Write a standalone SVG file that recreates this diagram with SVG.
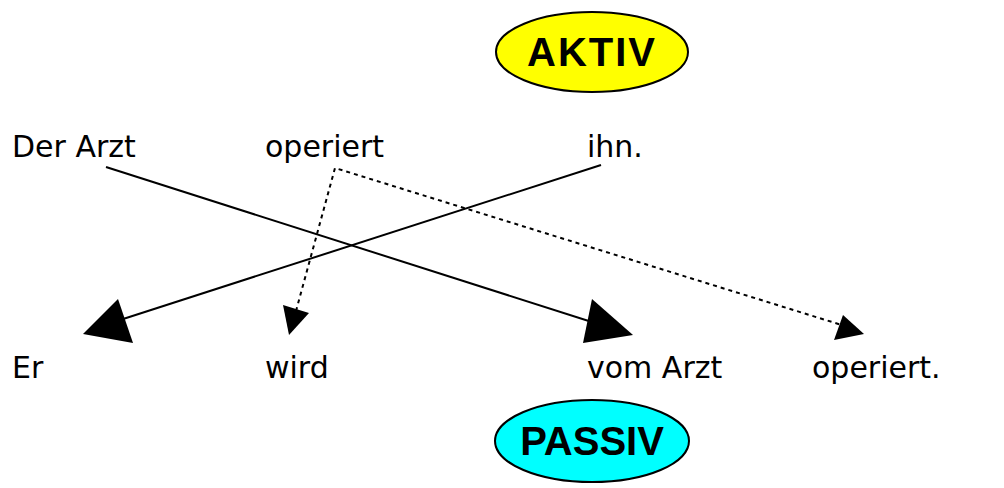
<svg xmlns="http://www.w3.org/2000/svg" width="1004" height="488" viewBox="0 0 1004 488">
<style>
.w{font-family:"DejaVu Sans","Liberation Sans",sans-serif;font-size:30px;fill:#000}
.t{font-family:"Liberation Sans",Arial,sans-serif;font-weight:bold;font-size:40px;fill:#000;text-anchor:middle}
.e{stroke:#000;stroke-width:2}
.s{stroke:#000;stroke-width:2;fill:none}
.d{stroke:#000;stroke-width:2;fill:none;stroke-dasharray:4 4}
</style>
<rect width="1004" height="488" fill="#fff"/>
<g id="aktiv"><ellipse class="e" cx="592" cy="52" rx="96" ry="40" fill="#ffff00"/><text class="t" x="592" y="66" letter-spacing="2">AKTIV</text></g>
<g id="passiv"><ellipse class="e" cx="592" cy="441" rx="97" ry="41" fill="#00ffff"/><text class="t" x="592" y="455">PASSIV</text></g>
<g id="der-arzt"><text class="w" x="12" y="157">Der Arzt</text></g>
<g id="operiert-top"><text class="w" x="265" y="157">operiert</text></g>
<g id="ihn"><text class="w" x="587" y="157">ihn.</text></g>
<g id="er"><text class="w" x="12" y="378">Er</text></g>
<g id="wird"><text class="w" x="265" y="378">wird</text></g>
<g id="vom-arzt"><text class="w" x="587" y="378">vom Arzt</text></g>
<g id="operiert-bottom"><text class="w" x="812" y="378">operiert.</text></g>
<g id="connectors">
<line class="s" x1="106" y1="167" x2="595" y2="323"/>
<polygon points="633,335 592,299 583,343"/>
<line class="s" x1="601" y1="165" x2="120" y2="320"/>
<polygon points="83,334 118,299 133,343"/>
<polyline class="d" points="296,311 335,168 845,326"/>
<polygon points="289,335 283,305 309,313"/>
<polygon points="864,334 843,315 834,340"/>
</g>
</svg>
